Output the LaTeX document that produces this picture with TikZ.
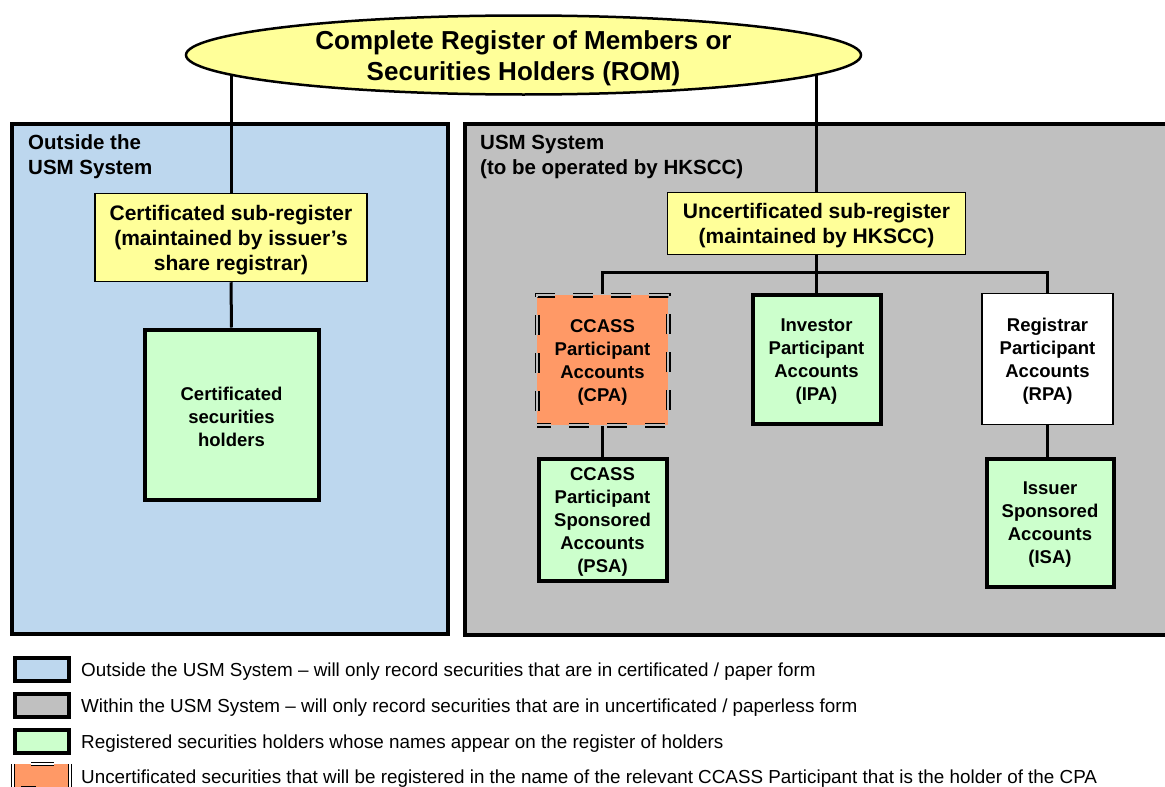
\documentclass[tikz,border=0pt]{standalone}
\usepackage{fontspec}
\setmainfont{Liberation Sans}
\usetikzlibrary{shapes.geometric}
\pgfdeclarelayer{bg}
\pgfdeclarelayer{wires}
\pgfsetlayers{bg,wires,main}
\definecolor{romyellow}{RGB}{255,255,153}
\definecolor{outblue}{RGB}{189,215,238}
\definecolor{usmgray}{RGB}{192,192,192}
\definecolor{holdgreen}{RGB}{204,255,204}
\definecolor{cpaorange}{RGB}{255,153,102}
\newcommand\tstrut{\rule{0pt}{0.95em}}
\begin{document}
\begin{tikzpicture}[x=1pt,y=-1pt,
  panel/.style={draw=black, line width=4pt, inner sep=0pt},
  paneltitle/.style={anchor=west, align=left, inner sep=0pt, font=\fontsize{20.5}{25}\selectfont\bfseries},
  romstyle/.style={ellipse, draw=black, line width=2.5pt, fill=romyellow, inner xsep=0pt, inner ysep=-10pt, align=center,
    minimum width=675pt, minimum height=79pt, font=\fontsize{26}{31}\selectfont\bfseries},
  subreg/.style={draw=black, line width=1.5pt, fill=romyellow, inner sep=0pt, align=center,
    font=\fontsize{21}{25}\selectfont\bfseries},
  acct/.style={draw=black, line width=4pt, fill=holdgreen, inner sep=0pt, align=center,
    font=\fontsize{18.5}{23}\selectfont\bfseries},
  cpastyle/.style={draw=black, double=usmgray, double distance=2pt, line width=1.5pt,
    dash pattern=on 20pt off 18pt, dash phase=6pt, fill=cpaorange, inner sep=0pt, align=center,
    font=\fontsize{18.5}{23}\selectfont\bfseries},
  dline/.style={draw=black, double=white, double distance=1.8pt, line width=1.3pt},
  wire/.style={draw=black, line width=3pt},
  legbox/.style={draw=black, line width=4pt, inner sep=0pt, minimum width=54pt, minimum height=23pt},
  legtext/.style={anchor=west, inner sep=0pt, font=\fontsize{18.85}{22}\selectfont}
]
\useasboundingbox (0,0) rectangle (1165,787);
\clip (0,0) rectangle (1165,787);

\begin{pgfonlayer}{bg}
  \fill[white] (0,0) rectangle (1165,787);
  \node[panel, fill=outblue, minimum width=436pt, minimum height=510pt] (outside) at (230,379) {};
  \node[panel, fill=usmgray, minimum width=715pt, minimum height=511pt] (usm) at (822.5,379.5) {};
\end{pgfonlayer}

\node[paneltitle] (outtitle) at (28,157) {Outside the\\USM System};
\node[paneltitle] (usmtitle) at (480,157) {USM System\\(to be operated by HKSCC)};

\node[romstyle] (rom) at (523.5,55) {\tstrut Complete Register of Members or\\Securities Holders (ROM)};

\node[subreg, minimum width=272pt, minimum height=88pt] (cert) at (231,237.5)
  {\tstrut Certificated sub-register\\(maintained by issuer’s\\share registrar)};
\node[acct, minimum width=174pt, minimum height=170pt] (holders) at (231.5,414.5)
  {\tstrut Certificated\\securities\\holders};

\node[subreg, minimum width=298pt, minimum height=62pt] (uncert) at (816.5,223.5)
  {\tstrut Uncertificated sub-register\\(maintained by HKSCC)};

\node[cpastyle, minimum width=131pt, minimum height=130pt] (cpa) at (602.5,360)
  {\tstrut CCASS\\Participant\\Accounts\\(CPA)};
\node[acct, minimum width=128pt, minimum height=129pt] (ipa) at (816.5,359)
  {\tstrut Investor\\Participant\\Accounts\\(IPA)};
\node[acct, fill=white, line width=1.5pt, minimum width=131pt, minimum height=131pt] (rpa) at (1047.5,359)
  {\tstrut Registrar\\Participant\\Accounts\\(RPA)};
\node[acct, minimum width=128pt, minimum height=122pt] (psa) at (602.5,519.5)
  {\tstrut CCASS\\Participant\\Sponsored\\Accounts\\(PSA)};
\node[acct, minimum width=127pt, minimum height=128pt] (isa) at (1050,522.5)
  {\tstrut Issuer\\Sponsored\\Accounts\\(ISA)};

\coordinate (bus) at (816.5,272);

\begin{pgfonlayer}{wires}
  \draw[wire] (rom.center -| cert.north) -- (cert.north);
  \draw[wire] (cert.south) -- (holders.north);
  \draw[wire] (rom.center -| uncert.north) -- (uncert.north);
  \draw[wire] (uncert.south) -- (bus);
  \draw[wire] (cpa.north) |- (bus) -| (rpa.north);
  \draw[wire] (bus) -- (ipa.north);
  \draw[wire] (cpa.south) -- (psa.north);
  \draw[wire] (rpa.south) -- (rpa.south |- isa.north);
\end{pgfonlayer}

\node[legbox, fill=outblue] (lg1) at (42,669.5) {};
\node[legbox, fill=usmgray] (lg2) at (42,705.5) {};
\node[legbox, fill=holdgreen] (lg3) at (42,741.5) {};
\node[fill=cpaorange, inner sep=0pt, minimum width=54pt, minimum height=24pt] (lg4) at (41.5,776) {};
\draw[dline] ([xshift=-1.5pt]lg4.north west) -- ([xshift=-1.5pt]lg4.south west);
\draw[dline] ([xshift=1.5pt]lg4.north east) -- ([xshift=1.5pt]lg4.south east);
\draw[dline] ([xshift=17pt]lg4.north west) -- ([xshift=40pt]lg4.north west);
\draw[dline] ([xshift=7pt]lg4.south west) -- ([xshift=22pt]lg4.south west);

\node[legtext] (lt1) at (81,672) {Outside the USM System – will only record securities that are in certificated / paper form};
\node[legtext] (lt2) at (81,708) {Within the USM System – will only record securities that are in uncertificated / paperless form};
\node[legtext] (lt3) at (81,744) {Registered securities holders whose names appear on the register of holders};
\node[legtext] (lt4) at (81,779) {Uncertificated securities that will be registered in the name of the relevant CCASS Participant that is the holder of the CPA};
\end{tikzpicture}
\end{document}
